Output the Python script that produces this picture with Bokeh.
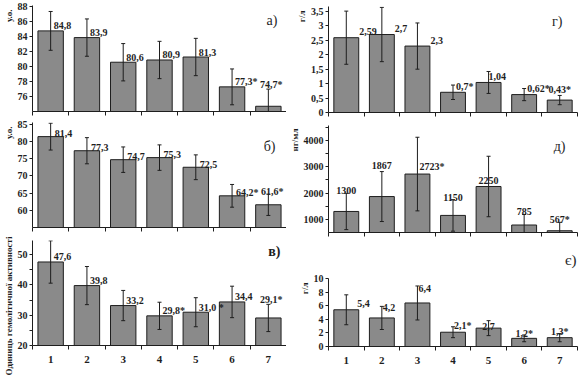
from bokeh.plotting import figure
from bokeh.layouts import row, column
from bokeh.models import FixedTicker, ColumnDataSource, Title, Range1d, CustomJSTickFormatter
from bokeh.core.properties import value
from bokeh.embed import file_html
from bokeh.resources import INLINE

# ---------------- data ----------------
groups = [1, 2, 3, 4, 5, 6, 7]
x_labels = ["1", "2", "3", "4", "5", "6", "7"]

a_values = [84.8, 83.9, 80.6, 80.9, 81.3, 77.3, 74.7]
a_errors = [2.6, 2.5, 2.5, 2.5, 2.5, 2.4, 2.3]
a_labels = ["84,8", "83,9", "80,6", "80,9", "81,3", "77,3*", "74,7*"]

b_values = [81.4, 77.3, 74.7, 75.3, 72.5, 64.2, 61.6]
b_errors = [3.9, 3.8, 3.7, 3.7, 3.6, 3.3, 3.1]
b_labels = ["81,4", "77,3", "74,7", "75,3", "72,5", "64,2*", "61,6*"]

v_values = [47.6, 39.8, 33.2, 29.8, 31.0, 34.4, 29.1]
v_errors = [7.0, 6.3, 5.0, 4.5, 4.8, 5.2, 4.5]
v_labels = ["47,6", "39,8", "33,2", "29,8*", "31,0 *", "34,4", "29,1*"]

g_values = [2.59, 2.7, 2.3, 0.7, 1.04, 0.62, 0.43]
g_errors = [0.92, 0.94, 0.8, 0.25, 0.38, 0.21, 0.16]
g_labels = ["2,59", "2,7", "2,3", "0,7*", "1,04", "0,62*", "0,43*"]

d_values = [1300, 1867, 2723, 1150, 2250, 785, 567]
d_errors = [690, 950, 1400, 600, 1150, 400, 320]
d_labels = ["1300", "1867", "2723*", "1150", "2250", "785", "567*"]

e_values = [5.4, 4.2, 6.4, 2.1, 2.7, 1.2, 1.3]
e_errors = [2.2, 1.7, 2.5, 0.8, 1.1, 0.5, 0.6]
e_labels = ["5,4", "4,2", "6,4", "2,1*", "2,7", "1,2*", "1,3*"]

# ---------------- style ----------------
FONT = "Liberation Serif"
BAR = "#8a8a8a"
INK = "#1e1e1e"

comma_fmt = CustomJSTickFormatter(code="return String(tick).replace('.', ',');")


def make_panel(values, errors, labels, y_start, y_end, ticks, minor, w, h, borders,
               show_x, modes, dx, dy, tag, tag_dx, tag_dy, tag_bold=False,
               ytitle=None, ytitle_align="right", ytitle_offset=0, ytitle_size="9px"):
    left, right, top, bottom = borders
    p = figure(width=w, height=h, x_range=Range1d(0.5, 7.5), y_range=Range1d(y_start, y_end),
               output_backend="svg", toolbar_location=None,
               min_border_left=left, min_border_right=right,
               min_border_top=top, min_border_bottom=bottom)
    p.xgrid.visible = False
    p.ygrid.visible = False
    p.outline_line_color = None

    p.vbar(x=groups, top=values, bottom=y_start, width=0.7,
           fill_color=BAR, line_color=INK, line_width=1)

    upper = [v + e for v, e in zip(values, errors)]
    lower = [max(v - e, y_start) for v, e in zip(values, errors)]
    p.segment(x0=groups, y0=lower, x1=groups, y1=upper, line_color=INK, line_width=1)
    p.scatter(x=groups, y=upper, marker="dash", size=4, line_color=INK, line_width=1)
    lo_x = [g for g, v, e in zip(groups, values, errors) if v - e > y_start]
    lo_y = [v - e for v, e in zip(values, errors) if v - e > y_start]
    p.scatter(x=lo_x, y=lo_y, marker="dash", size=4, line_color=INK, line_width=1)

    for mode in ("r", "c", "m"):
        idx = [i for i, m in enumerate(modes) if m == mode]
        if not idx:
            continue
        src = ColumnDataSource(dict(
            x=[groups[i] for i in idx],
            y=[(values[i] + errors[i]) if mode == "c" else values[i] for i in idx],
            t=[labels[i] for i in idx],
            xo=[dx[i] for i in idx],
            yo=[-dy[i] for i in idx],
        ))
        p.text(x="x", y="y", text="t", x_offset="xo", y_offset="yo", source=src,
               text_align="left" if mode == "r" else "center", text_baseline="alphabetic",
               text_font=value(FONT), text_font_style="bold", text_font_size="10px",
               text_color=INK)

    if tag:
        p.text(x=[7.5], y=[y_end], text=[tag], x_offset=tag_dx, y_offset=tag_dy,
               text_align="right", text_baseline="top", text_font=value(FONT),
               text_font_style="bold" if tag_bold else "normal",
               text_font_size="14px", text_color=INK)

    ya = p.yaxis[0]
    ya.ticker = FixedTicker(ticks=ticks, minor_ticks=minor)
    ya.formatter = comma_fmt
    ya.major_tick_out = 3
    ya.major_tick_in = 0
    ya.minor_tick_out = 3
    ya.minor_tick_in = 0
    ya.major_tick_line_color = INK
    ya.minor_tick_line_color = INK
    ya.axis_line_color = INK
    ya.major_label_standoff = 2
    ya.major_label_text_font = FONT
    ya.major_label_text_font_style = "bold"
    ya.major_label_text_font_size = "10px"
    ya.major_label_text_color = INK

    xa = p.xaxis[0]
    xa.ticker = FixedTicker(ticks=groups if show_x else [],
                            minor_ticks=[0.5, 1.5, 2.5, 3.5, 4.5, 5.5, 6.5, 7.5])
    xa.major_label_overrides = {g: l for g, l in zip(groups, x_labels)}
    xa.major_tick_out = 0
    xa.major_tick_in = 0
    xa.minor_tick_out = 4
    xa.minor_tick_in = 0
    xa.minor_tick_line_color = INK
    xa.axis_line_color = INK
    xa.major_label_standoff = 6 if show_x else 0
    xa.major_label_text_font = FONT
    xa.major_label_text_font_style = "bold"
    xa.major_label_text_font_size = "11px"
    xa.major_label_text_color = INK

    if ytitle:
        t = Title(text=ytitle, align=ytitle_align, offset=ytitle_offset,
                  text_font=FONT, text_font_style="bold", text_font_size=ytitle_size,
                  text_color=INK, standoff=2)
        p.add_layout(t, "left")
    return p


LW, RW = 286, 294

pa = make_panel(a_values, a_errors, a_labels, 74, 88.2, [76, 78, 80, 82, 84, 86, 88], [],
                LW, 117, (31, 0, 5, 6), False,
                ["r"] * 6 + ["c"], [3] * 7, [5] * 7, "а)", -9, 7,
                ytitle="у.о.", ytitle_offset=4)
pb = make_panel(b_values, b_errors, b_labels, 55, 85.5, [60, 65, 70, 75, 80, 85], [],
                LW, 117, (31, 0, 5, 7), False,
                ["r"] * 6 + ["c"], [4] * 7, [3] * 7, "б)", -11, 16,
                ytitle="у.о.", ytitle_offset=4)
pv = make_panel(v_values, v_errors, v_labels, 20, 54.7, [20, 30, 40, 50], [25, 35, 45],
                LW, 148, (31, 0, 6, 37), True,
                ["r"] * 6 + ["c"], [3] * 7, [5] * 7, "в)", -6, 3, tag_bold=True,
                ytitle="Одиниць гемолітичної активності", ytitle_align="left",
                ytitle_offset=-30, ytitle_size="9px")

pg = make_panel(g_values, g_errors, g_labels, 0, 3.67, [0, 0.5, 1, 1.5, 2, 2.5, 3, 3.5], [],
                RW, 118, (35, 3, 6, 6), False,
                ["r"] * 6 + ["c"], [13, 13, 13, 3, 0, 3, 0], [6] * 7, "г)", -15, 7,
                ytitle="г/л", ytitle_offset=4)
pd_ = make_panel(d_values, d_errors, d_labels, 500, 4570, [1000, 2000, 3000, 4000],
                 [1500, 2500, 3500, 4500],
                 RW, 120, (35, 3, 7, 6), False,
                 ["c", "c", "r", "c", "m", "c", "c"], [0, 0, 2, 0, 0, 0, 0],
                 [3, 6, 8, 2, 6, 3, 3], "д)", -12, 13,
                 ytitle="нг/мл", ytitle_offset=3)
pe = make_panel(e_values, e_errors, e_labels, 0, 10, [0, 2, 4, 6, 8, 10], [],
                RW, 144, (35, 3, 34, 36), True,
                ["r", "r", "r", "r", "m", "c", "c"], [11, 1, 1, 1, 0, 0, 0],
                [6, 10, 14, 7, 2, 1, 2], None, 0, 0,
                ytitle="г/л", ytitle_offset=4)
pe.add_layout(Title(text="є)", align="right", offset=1, text_font=FONT,
                    text_font_style="normal", text_font_size="15px", text_color=INK,
                    standoff=22), "above")

layout = row(column(pa, pb, pv, spacing=0), column(pg, pd_, pe, spacing=0), spacing=0)

open("out.html", "w").write(file_html(layout, INLINE))
